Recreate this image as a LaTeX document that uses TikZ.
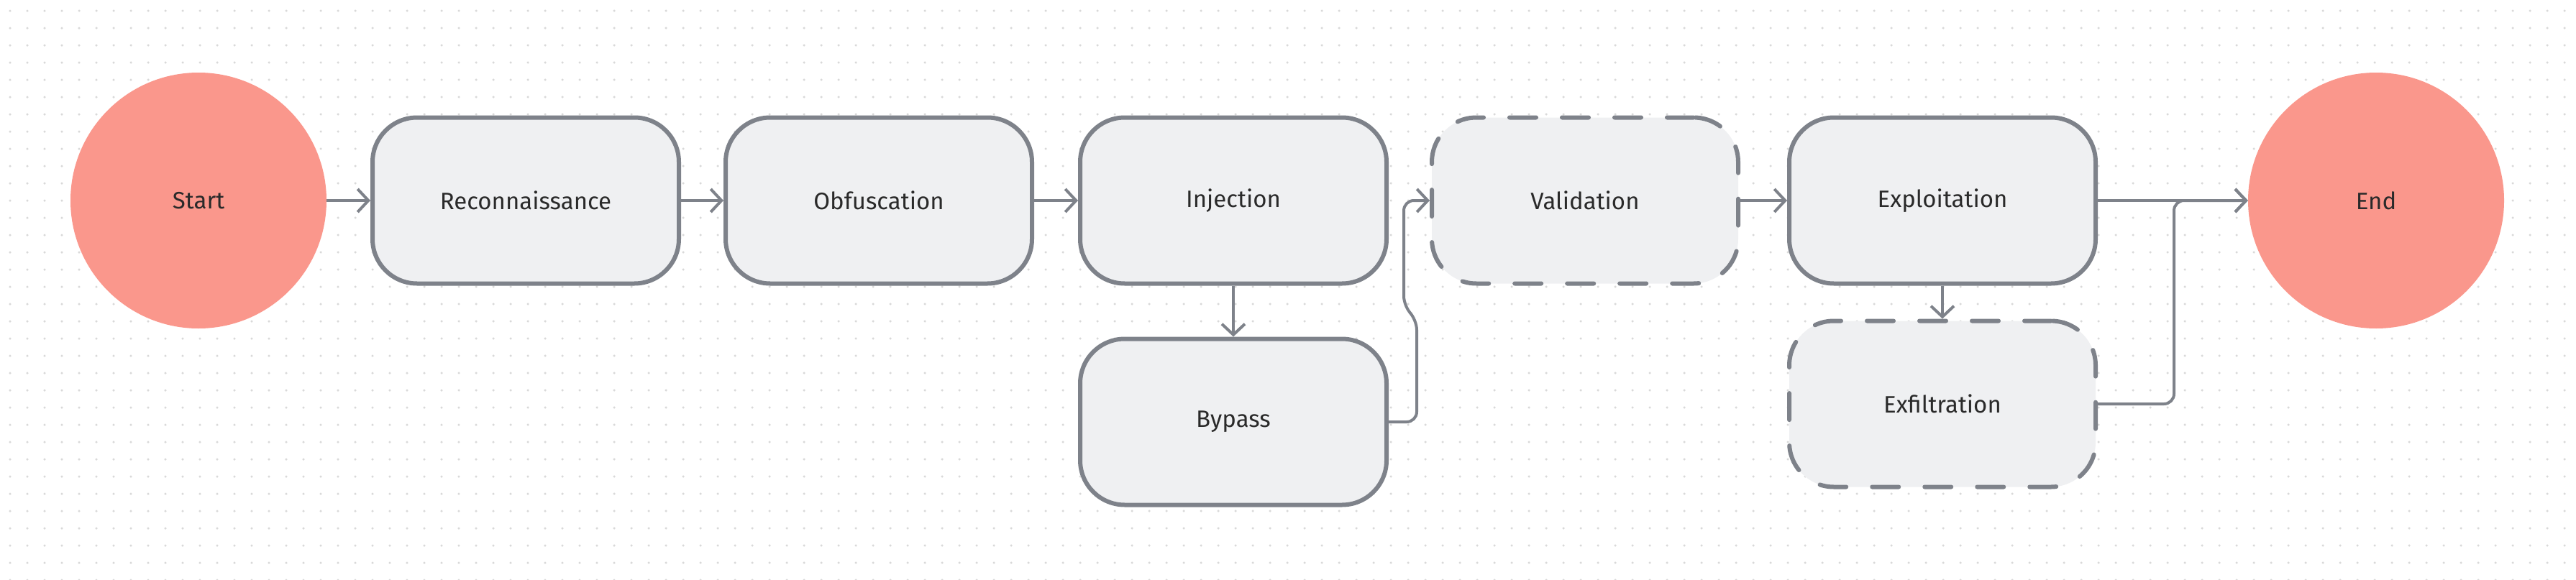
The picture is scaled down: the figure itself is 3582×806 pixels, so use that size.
\documentclass[tikz,border=0pt]{standalone}
\usepackage{fontspec}
\setmainfont{Fira Sans}
\usetikzlibrary{positioning}
\usetikzlibrary{arrows.meta}

\definecolor{edgegray}{HTML}{7E828A}
\definecolor{boxfill}{HTML}{EFF0F2}
\definecolor{termfill}{HTML}{FA978C}
\definecolor{labeltext}{HTML}{2A2A2A}
\definecolor{griddot}{HTML}{D9D9D9}

\begin{document}
\begin{tikzpicture}[x=1pt, y=-1pt,
			terminal/.style={circle, fill=termfill, minimum size=356pt, inner sep=0pt, text=labeltext, font=\fontsize{33}{39}\selectfont},
			stage/.style={draw=edgegray, line width=6pt, fill=boxfill, rounded corners=62pt, minimum width=426pt, minimum height=231pt, text=labeltext, font=\fontsize{33}{39}\selectfont},
			optional/.style={stage, line cap=round, dash pattern=on 37pt off 36pt},
			link/.style={draw=edgegray, line width=4pt, rounded corners=14pt, -{Straight Barb[length=15pt, width=32pt]}}]
			\useasboundingbox (0,0) rectangle (3582,806);
			% dotted canvas
			\foreach \row in {0,...,33}
				\draw[griddot, line width=3.5pt, line cap=round, dash pattern=on 0pt off 24pt] (14,15+24*\row) -- (3582,15+24*\row);
			% main flow
			\node[terminal] (start) at (276,279) {Start};
			\node[stage] (recon) at (731,279) {Reconnaissance};
			\node[stage] (obfus) at (1222,279) {Obfuscation};
			\node[stage] (inject) at (1715,279) {Injection};
			\node[optional] (valid) at (2204,279) {Validation};
			\node[stage] (exploit) at (2701,279) {Exploitation};
			\node[terminal] (end) at (3304,279) {End};
			% side branches
			\node[stage, below=71pt of inject] (bypass) {Bypass};
			\node[optional, below=46pt of exploit] (exfil) {Exfiltration};
			\path[link] (start) -- (recon);
			\path[link] (recon) -- (obfus);
			\path[link] (obfus) -- (inject);
			\path[link] (inject) -- (bypass);
			\path[link] (bypass.east) -- ++(39,0) -- ++(0,-142) -- ++(-18,-19) |- (valid.west);
			\path[link] (valid) -- (exploit);
			\path[link] (exploit) -- (exfil);
			\path[link] (exploit) -- (end);
			\path[link] (exfil.east) -- ++(106,0) |- (end.west);
\end{tikzpicture}
\end{document}
